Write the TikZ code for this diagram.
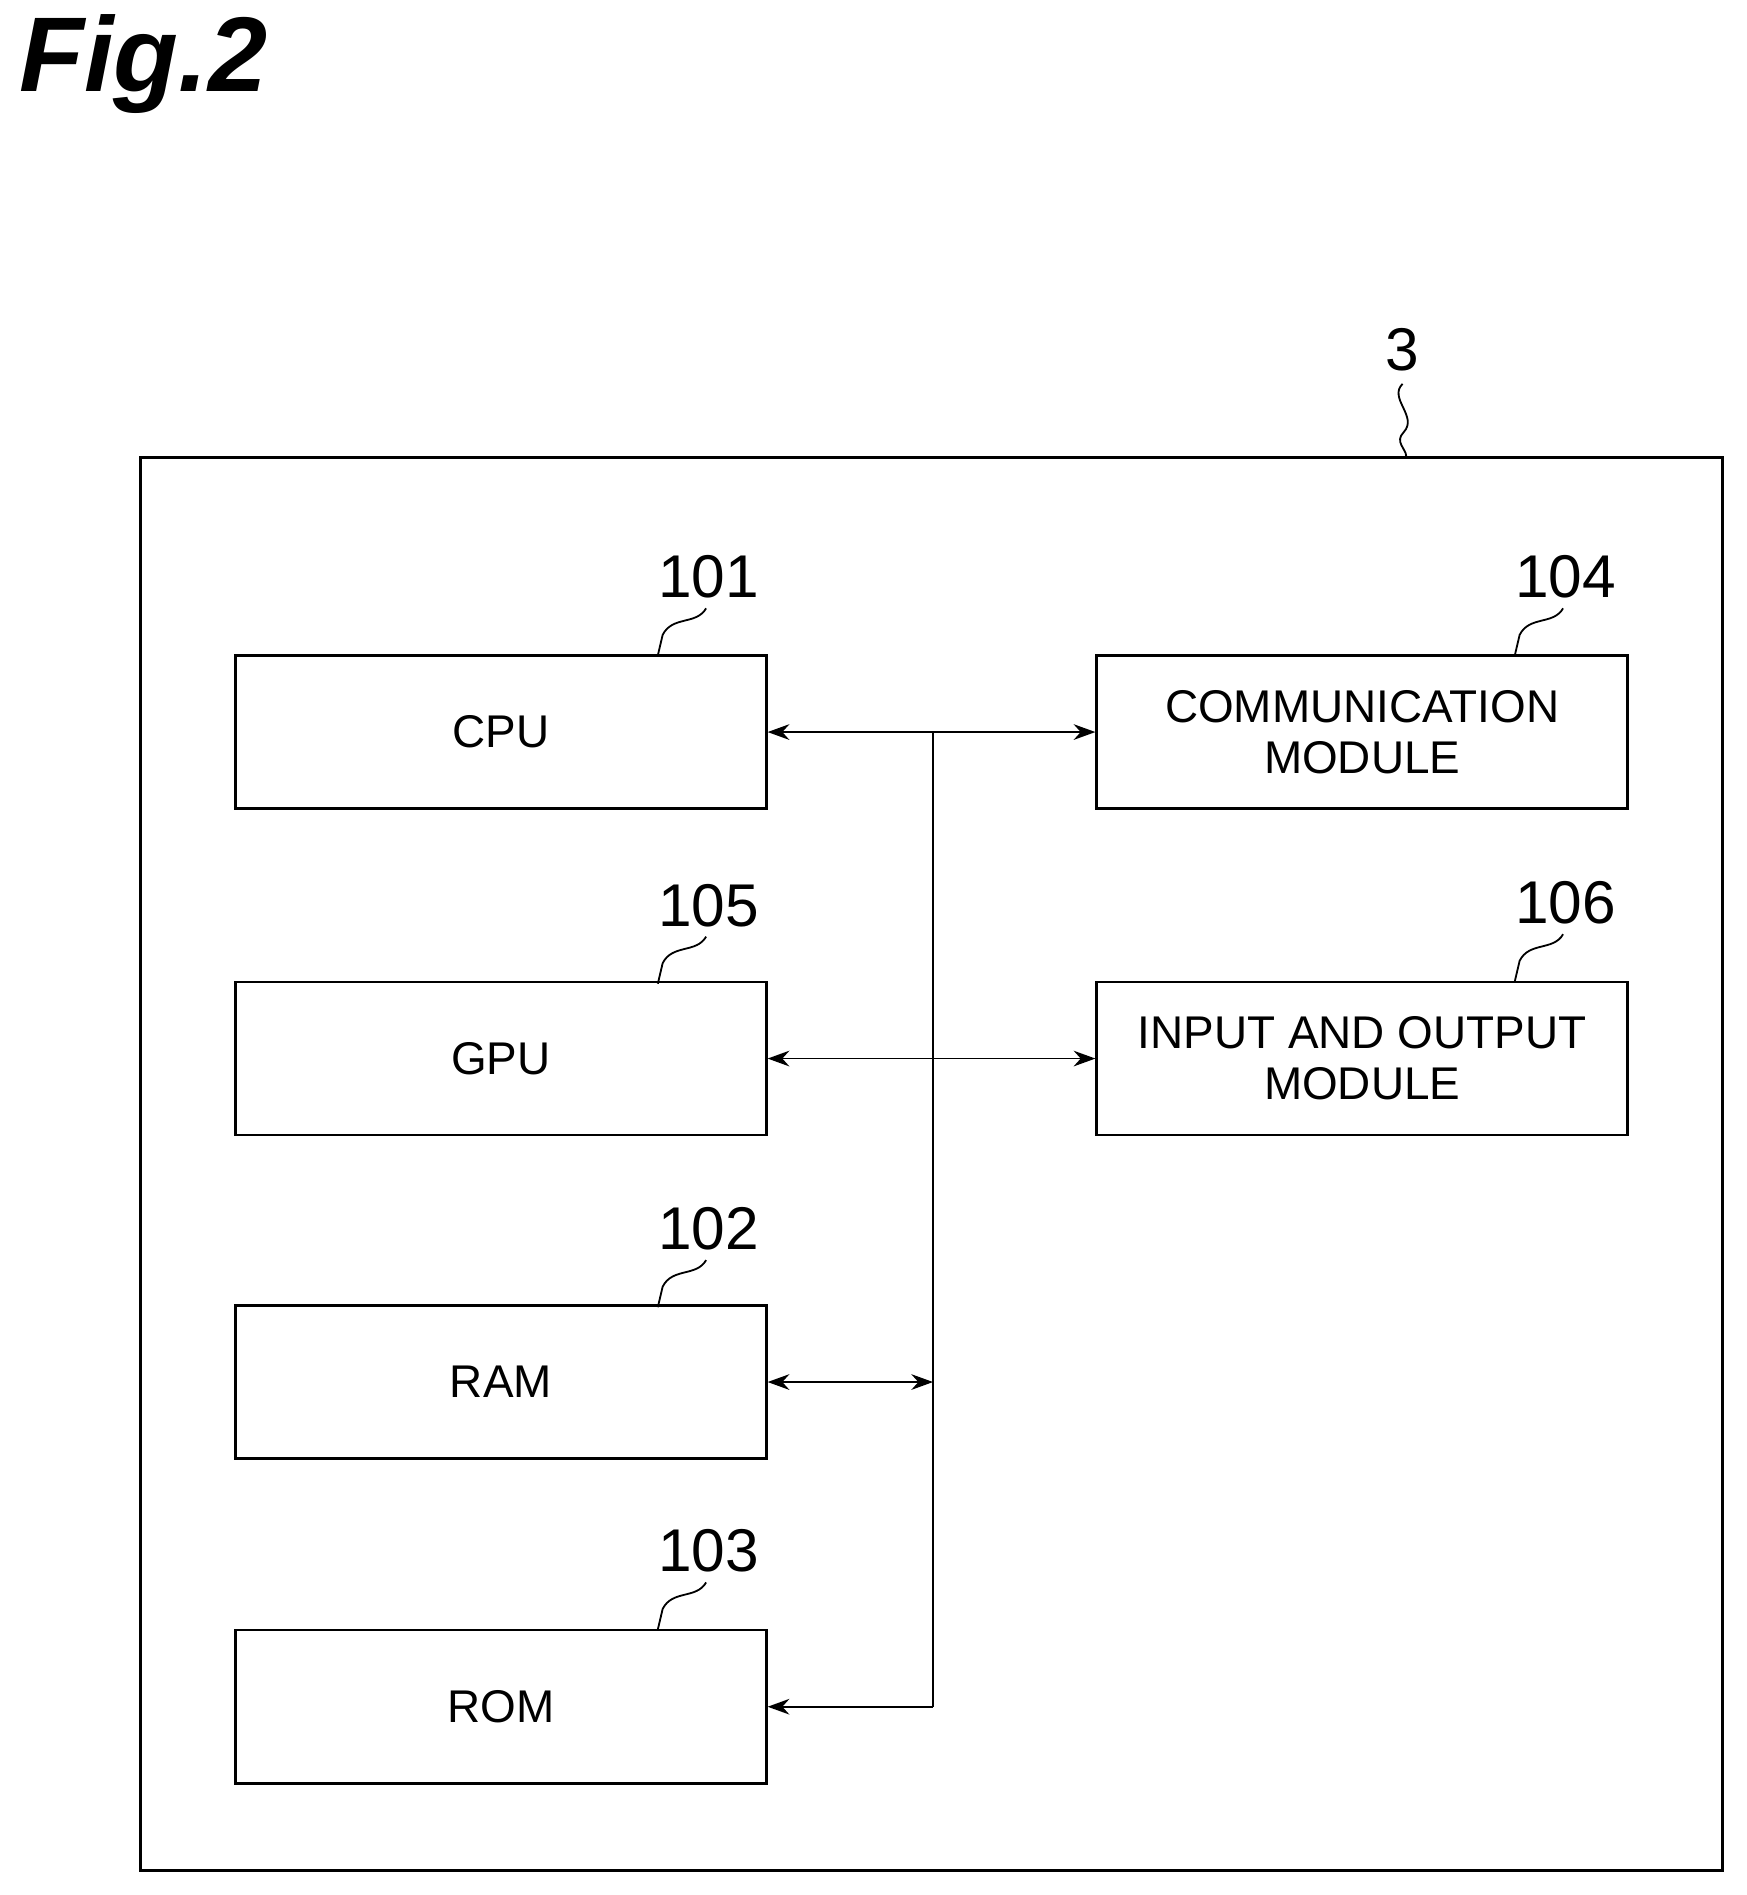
\documentclass[tikz,border=0pt]{standalone}
\usepackage{fontspec}
\setmainfont{Liberation Sans}
\usetikzlibrary{arrows.meta}
\begin{document}
\begin{tikzpicture}[x=1pt,y=-1pt,
  box/.style={draw,line width=2pt,minimum width=440pt,minimum height=127pt,inner sep=0pt,align=center,font=\fontsize{38}{42}\selectfont},
  num/.style={font=\fontsize{50}{50}\selectfont,inner sep=0pt},
  lead/.style={line width=1.5pt},
  conn/.style={line width=1.5pt},
  tip/.style={-{Stealth[length=18pt,width=13pt]}},
  both/.style={{Stealth[length=18pt,width=13pt]}-{Stealth[length=18pt,width=13pt]}}]
\useasboundingbox (0,0) rectangle (1447,1570);
\node[anchor=north west,inner sep=0pt,font=\fontsize{88}{88}\selectfont\bfseries\itshape] (title) at (16,12) {Fig.2};
\node[draw,line width=2.5pt,minimum width=1311pt,minimum height=1171pt,inner sep=0pt] (outer) at (771.5,964.5) {};
\node[num] (n3) at (1162,290) {3};
\draw[lead] (1162,318) .. controls (1150,330) and (1175,345) .. (1163,358) .. controls (1155,366) and (1165,372) .. (outer.north -| 1165,0);
\node[box] (cpu) at (415,606.5) {CPU};
\node[box] (gpu) at (415,877) {GPU};
\node[box] (ram) at (415,1145) {RAM};
\node[box] (rom) at (415,1414) {ROM};
\node[box] (comm) at (1128.5,606.5) {COMMUNICATION\\MODULE};
\node[box] (io) at (1128.5,877) {INPUT AND OUTPUT\\MODULE};
\foreach \b/\t/\x/\y in {cpu/101/587/478, gpu/105/587/750, ram/102/587/1018, rom/103/587/1285, comm/104/1297/478, io/106/1297/748}{
  \node[num] (l\t) at (\x,\y) {\t};
  \draw[lead] (\x-2,\y+26) .. controls (\x-10,\y+40) and (\x-30,\y+32) .. (\x-38,\y+48) -- (\x-42,\y+65);
}
\coordinate (btop) at (773,606.5);
\coordinate (bram) at (773,1145);
\coordinate (brom) at (773,1414);
\draw[conn,both] (cpu.east) -- (comm.west);
\draw[conn,both] (gpu.east) -- (io.west);
\draw[conn,both] (ram.east) -- (bram);
\draw[conn] (btop) -- (brom);
\draw[conn,tip] (brom) -- (rom.east);
\end{tikzpicture}
\end{document}
